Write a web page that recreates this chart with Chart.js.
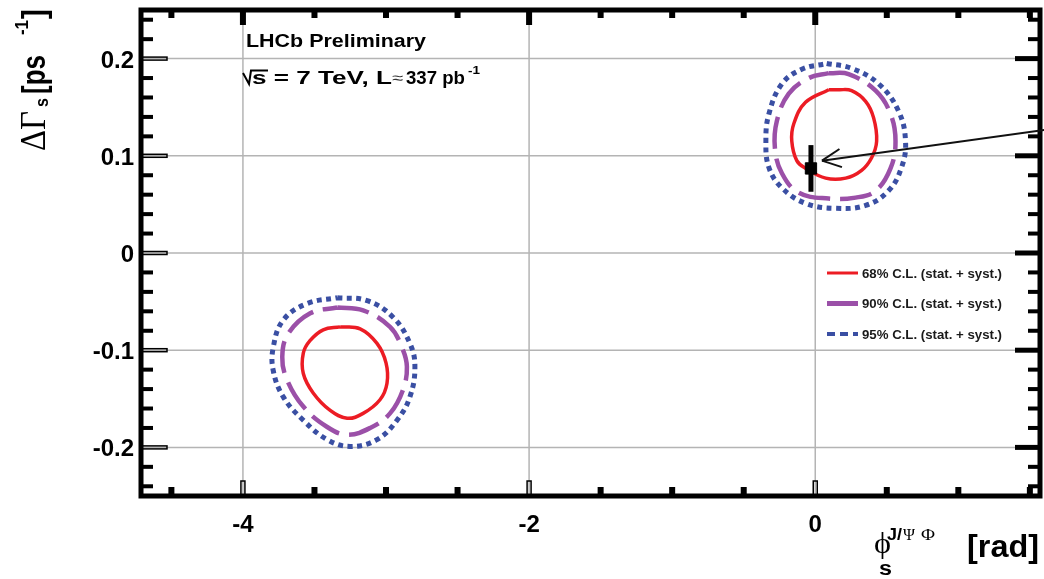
<!DOCTYPE html>
<html>
<head>
<meta charset="utf-8">
<script src="https://cdn.jsdelivr.net/npm/chart.js@4.4.1/dist/chart.umd.min.js"></script>
<style>
  html, body { margin: 0; padding: 0; background: #fff; }
  canvas { display: block; }
</style>
</head>
<body>
<canvas id="contours" width="1044" height="579"></canvas>
<script>
// contour points, [phi_s, DeltaGamma_s]
const cl68Right = [[0.094,0.168],[0.164,0.168],[0.254,0.167],[0.352,0.156],[0.408,0.139],[0.429,0.115],[0.394,0.098],[0.324,0.085],[0.213,0.077],[0.073,0.077],[-0.066,0.087],[-0.129,0.095],[-0.164,0.115],[-0.150,0.133],[-0.068,0.155]];
const cl90Right = [[0.094,0.185],[0.233,0.184],[0.422,0.167],[0.526,0.143],[0.561,0.115],[0.526,0.087],[0.422,0.064],[0.282,0.057],[0.094,0.056],[-0.115,0.062],[-0.233,0.082],[-0.282,0.108],[-0.268,0.136],[-0.185,0.164],[-0.045,0.180]];
const cl95Right = [[0.080,0.195],[0.254,0.190],[0.443,0.174],[0.582,0.146],[0.631,0.115],[0.603,0.088],[0.512,0.064],[0.352,0.049],[0.143,0.046],[-0.066,0.051],[-0.233,0.067],[-0.324,0.088],[-0.345,0.115],[-0.324,0.143],[-0.233,0.174],[-0.094,0.189]];
const cl68Left = [[-3.321,-0.076],[-3.181,-0.078],[-3.063,-0.093],[-3.000,-0.113],[-2.993,-0.134],[-3.042,-0.151],[-3.160,-0.165],[-3.272,-0.170],[-3.390,-0.162],[-3.509,-0.144],[-3.578,-0.124],[-3.578,-0.103],[-3.530,-0.090],[-3.439,-0.079]];
const cl90Left = [[-3.341,-0.056],[-3.160,-0.059],[-2.972,-0.076],[-2.889,-0.097],[-2.854,-0.117],[-2.882,-0.141],[-2.972,-0.165],[-3.111,-0.180],[-3.272,-0.187],[-3.411,-0.179],[-3.578,-0.158],[-3.690,-0.131],[-3.725,-0.107],[-3.683,-0.083],[-3.530,-0.062]];
const cl95Left = [[-3.341,-0.046],[-3.132,-0.049],[-2.951,-0.066],[-2.833,-0.093],[-2.798,-0.117],[-2.833,-0.148],[-2.923,-0.172],[-3.063,-0.192],[-3.251,-0.199],[-3.411,-0.192],[-3.578,-0.172],[-3.718,-0.148],[-3.788,-0.121],[-3.788,-0.097],[-3.718,-0.069],[-3.551,-0.052]];

// best fit point with its error bar, and the arrow pointing at it
const bestFit = [-0.03, 0.087];
const bestFitErr = [0.063, 0.111];
const arrowFrom = [1.6, 0.1265];
const arrowTo = [0.047, 0.095];

// axes
const xRange = [-1.5 * Math.PI, 0.5 * Math.PI];
const yRange = [-0.25, 0.25];
const xMajorTicks = [-4, -2, 0];
const xMinorTicks = [-4.5, -3.5, -3, -2.5, -1.5, -1, -0.5, 0.5, 1, 1.5];
const yMajorTicks = [-0.2, -0.1, 0, 0.1, 0.2];
const yMinorStep = 0.02;

const legendLabels = [
  "68% C.L. (stat. + syst.)",
  "90% C.L. (stat. + syst.)",
  "95% C.L. (stat. + syst.)",
];

const RED = "#ec1c24";
const PURPLE = "#9b50a8";
const BLUE = "#3a4fa3";
const SANS = '"Liberation Sans", Arial, sans-serif';
const SERIF = '"Liberation Serif", "Times New Roman", serif';

const toPts = (arr) => {
  const pts = arr.map(([x, y]) => ({ x, y }));
  pts.push({ x: arr[0][0], y: arr[0][1] }); // close the contour
  return pts;
};

const contour = (pts, color, width, dash, order) => ({
  data: toPts(pts),
  showLine: true,
  borderColor: color,
  borderWidth: width,
  borderDash: dash,
  pointRadius: 0,
  tension: 0.4,
  fill: false,
  order: order,
});

// draws text squeezed/stretched to a given width
const fitText = (ctx, str, x, y, font, width, align) => {
  ctx.save();
  ctx.font = font;
  const w = ctx.measureText(str).width;
  ctx.translate(x, y);
  ctx.scale(width ? width / w : 1, 1);
  ctx.textAlign = align || "left";
  ctx.textBaseline = "alphabetic";
  ctx.fillText(str, 0, 0);
  ctx.restore();
};

const line = (ctx, x1, y1, x2, y2) => {
  ctx.beginPath();
  ctx.moveTo(x1, y1);
  ctx.lineTo(x2, y2);
  ctx.stroke();
};

const framePlugin = {
  id: "frame",
  beforeDatasetsDraw(chart) {
    const { ctx, chartArea: a, scales: { x, y } } = chart;
    ctx.save();
    ctx.strokeStyle = "#b4b4b4";
    ctx.lineWidth = 1.5;
    xMajorTicks.forEach((v) => {
      const px = x.getPixelForValue(v);
      line(ctx, px, a.top, px, a.bottom);
    });
    yMajorTicks.forEach((v) => {
      const py = y.getPixelForValue(v);
      line(ctx, a.left, py, a.right, py);
    });
    ctx.restore();
  },
  afterDatasetsDraw(chart) {
    const { ctx, chartArea: a, scales: { x, y } } = chart;
    ctx.save();

    // frame
    ctx.strokeStyle = "#000";
    ctx.lineWidth = 5;
    ctx.strokeRect(a.left, a.top, a.right - a.left, a.bottom - a.top);

    // ticks
    ctx.fillStyle = "#000";
    xMinorTicks.forEach((v) => {
      const px = x.getPixelForValue(v);
      ctx.fillRect(px - 3, a.bottom - 9, 6, 9);
      ctx.fillRect(px - 3, a.top, 6, 8);
    });
    xMajorTicks.forEach((v) => {
      const px = x.getPixelForValue(v);
      ctx.fillRect(px - 3, a.top, 6, 15);
      ctx.lineWidth = 1.5;
      ctx.strokeStyle = "#000";
      ctx.strokeRect(px - 2, a.bottom - 15, 4, 15);
    });
    for (let v = -0.24; v <= 0.2401; v += yMinorStep) {
      if (Math.abs(v * 10 - Math.round(v * 10)) < 1e-6) continue;
      const py = y.getPixelForValue(v);
      ctx.fillRect(a.left, py - 2, 12, 4);
      ctx.fillRect(a.right - 12, py - 2, 12, 4);
    }
    yMajorTicks.forEach((v) => {
      const py = y.getPixelForValue(v);
      ctx.fillRect(a.right - 25, py - 2.5, 25, 5);
      ctx.lineWidth = 1.5;
      ctx.strokeStyle = "#000";
      ctx.strokeRect(a.left, py - 1.5, 26, 3);
    });

    // tick labels
    ctx.fillStyle = "#000";
    ctx.font = `bold 24px ${SANS}`;
    ctx.textBaseline = "alphabetic";
    ctx.textAlign = "center";
    xMajorTicks.forEach((v) => {
      ctx.fillText(String(v), x.getPixelForValue(v), 532);
    });
    ctx.textAlign = "right";
    yMajorTicks.forEach((v) => {
      ctx.fillText(String(v), 134, y.getPixelForValue(v) + 9);
    });

    // y title, rotated
    ctx.save();
    ctx.translate(45, 151);
    ctx.scale(1.25, 1);
    ctx.rotate(-Math.PI / 2);
    fitText(ctx, "ΔΓ", 0, 0, `29px ${SERIF}`, 40);
    fitText(ctx, "s", 44, 2, `bold 15px ${SANS}`, 9);
    fitText(ctx, "[ps", 57, 0, `bold 27px ${SANS}`, 39);
    fitText(ctx, "-1", 116, -14, `bold 15px ${SANS}`, 15);
    fitText(ctx, "]", 132, 0, `bold 27px ${SANS}`, 10);
    ctx.restore();

    // x title
    fitText(ctx, "ϕ", 874, 553, `30px ${SERIF}`, 17);
    fitText(ctx, "s", 879, 575, `bold 20px ${SANS}`, 13);
    fitText(ctx, "J/", 887, 540, `bold 16px ${SANS}`, 15);
    fitText(ctx, "Ψ", 903, 540, `17px ${SERIF}`, 12);
    fitText(ctx, "Φ", 921, 540, `17px ${SERIF}`, 14);
    fitText(ctx, "[rad]", 1039, 557, `bold 32px ${SANS}`, 72, "right");

    // labels in the plot
    fitText(ctx, "LHCb Preliminary", 246, 47, `bold 18px ${SANS}`, 180);
    ctx.lineWidth = 2;
    ctx.strokeStyle = "#000";
    ctx.beginPath();
    ctx.moveTo(243, 73);
    ctx.lineTo(249, 84);
    ctx.lineTo(251, 70.5);
    ctx.lineTo(268, 70.5);
    ctx.stroke();
    fitText(ctx, "s = 7 TeV, L", 252, 84, `bold 18px ${SANS}`, 140);
    ctx.fillStyle = "#333";
    fitText(ctx, "≈", 392, 83, `15px ${SANS}`, 11);
    ctx.fillStyle = "#000";
    fitText(ctx, "337 pb", 406, 84, `bold 18px ${SANS}`, 59);
    fitText(ctx, "-1", 468, 74, `bold 11px ${SANS}`, 12);

    // legend
    const legendStyles = chart.data.datasets.slice(0, 3);
    const sampleWidths = [3, 5, 4];
    const sampleDash = [[], [], [8, 5]];
    legendLabels.forEach((label, i) => {
      const ly = 273 + i * 30.5;
      ctx.strokeStyle = legendStyles[i].borderColor;
      ctx.lineWidth = sampleWidths[i];
      ctx.setLineDash(sampleDash[i]);
      line(ctx, 827, ly, 858, ly);
      ctx.setLineDash([]);
      ctx.fillStyle = "#1a1a1a";
      fitText(ctx, label, 862, ly + 4.5, `bold 12.5px ${SANS}`, 140);
    });

    // arrow to the best fit point
    const x1 = x.getPixelForValue(arrowFrom[0]);
    const y1 = y.getPixelForValue(arrowFrom[1]);
    const x2 = x.getPixelForValue(arrowTo[0]);
    const y2 = y.getPixelForValue(arrowTo[1]);
    ctx.strokeStyle = "#111";
    ctx.lineWidth = 2;
    line(ctx, x1, y1, x2, y2);
    const ang = Math.atan2(y1 - y2, x1 - x2);
    [-0.45, 0.45].forEach((d) => {
      line(ctx, x2, y2, x2 + 21 * Math.cos(ang + d), y2 + 21 * Math.sin(ang + d));
    });

    ctx.restore();
  },
};

new Chart(document.getElementById("contours"), {
  type: "scatter",
  data: {
    datasets: [
      contour(cl68Right, RED, 3.5, [], 4),
      contour(cl90Right, PURPLE, 4.5, [32, 10], 5),
      contour(cl95Right, BLUE, 5, [5, 4.5], 6),
      contour(cl68Left, RED, 3.5, [], 4),
      contour(cl90Left, PURPLE, 4.5, [32, 10], 5),
      contour(cl95Left, BLUE, 5, [5, 4.5], 6),
      {
        data: [
          { x: bestFit[0], y: bestFitErr[0] },
          { x: bestFit[0], y: bestFitErr[1] },
        ],
        showLine: true,
        borderColor: "#000",
        borderWidth: 5,
        pointRadius: 0,
        order: 1,
      },
      {
        data: [{ x: bestFit[0], y: bestFit[1] }],
        pointStyle: "rect",
        pointRadius: 8,
        backgroundColor: "#000",
        borderColor: "#000",
        order: 0,
      },
    ],
  },
  options: {
    responsive: false,
    animation: false,
    layout: {
      autoPadding: false,
      padding: { left: 141, right: 4, top: 10, bottom: 83 },
    },
    scales: {
      x: { type: "linear", min: xRange[0], max: xRange[1], display: false },
      y: { type: "linear", min: yRange[0], max: yRange[1], display: false },
    },
    plugins: {
      legend: { display: false },
      tooltip: { enabled: false },
    },
  },
  plugins: [framePlugin],
});
</script>
</body>
</html>
